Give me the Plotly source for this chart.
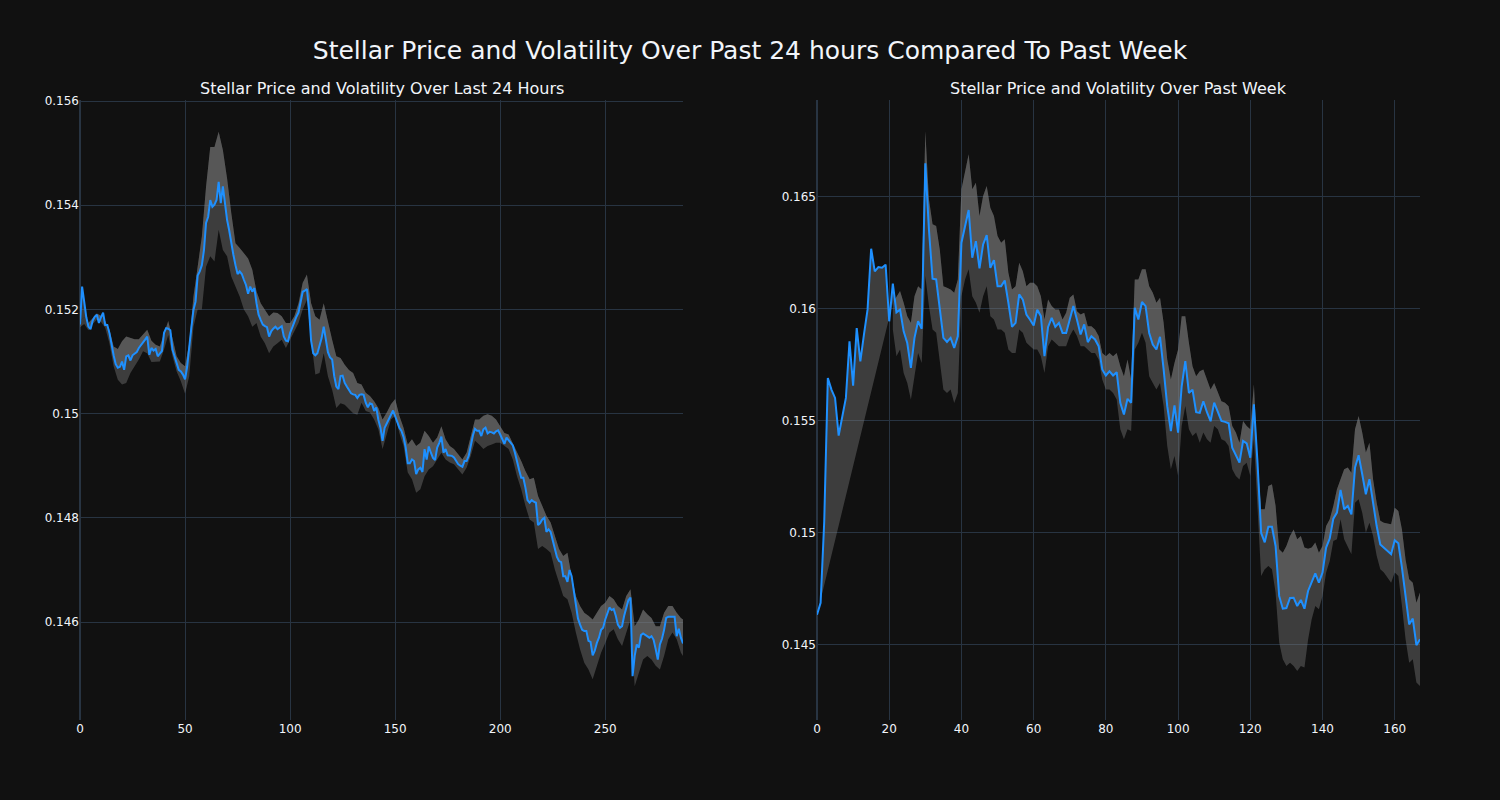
import plotly.graph_objects as go
from plotly.subplots import make_subplots

# ---------------- Past 24 hours (5-minute steps) ----------------
price_24h = [
    0.15171, 0.15244, 0.15215, 0.15185, 0.15167, 0.15162, 0.15178, 0.15186, 0.1519, 0.15174,
    0.15185, 0.15194, 0.1517, 0.1517, 0.15155, 0.1513, 0.15112, 0.15095, 0.15088, 0.1509,
    0.151, 0.15084, 0.1511, 0.15112, 0.15102, 0.15112, 0.15115, 0.15118, 0.15126, 0.15131,
    0.15135, 0.15142, 0.15148, 0.15113, 0.15126, 0.15121, 0.15124, 0.1511, 0.15115, 0.1512,
    0.15155, 0.15164, 0.15163, 0.1516, 0.15123, 0.15108, 0.15097, 0.15084, 0.15081, 0.15075,
    0.15066, 0.1509, 0.15135, 0.15165, 0.15199, 0.15215, 0.15265, 0.15273, 0.15285, 0.15314,
    0.15366, 0.15378, 0.1541, 0.15397, 0.15401, 0.1541, 0.15445, 0.15404, 0.15436, 0.15404,
    0.15372, 0.15352, 0.15325, 0.15305, 0.15285, 0.15268, 0.15273, 0.15268, 0.15257, 0.15247,
    0.1523, 0.15244, 0.15234, 0.15241, 0.15212, 0.1519, 0.1518, 0.15171, 0.15168, 0.15166,
    0.15148, 0.15158, 0.15163, 0.15167, 0.15162, 0.15166, 0.15168, 0.15148, 0.1514, 0.15139,
    0.15155, 0.15165, 0.15177, 0.15186, 0.15194, 0.15212, 0.15234, 0.15236, 0.15239, 0.152,
    0.1514, 0.15116, 0.15112, 0.15116, 0.1513, 0.15145, 0.15167, 0.15138, 0.15118, 0.15108,
    0.15104, 0.15072, 0.15052, 0.15047, 0.15072, 0.15073, 0.15059, 0.15052, 0.15045, 0.15039,
    0.15037, 0.15036, 0.1503, 0.15036, 0.15037, 0.15036, 0.15021, 0.15012, 0.1502, 0.15018,
    0.15005, 0.15012, 0.14988, 0.14973, 0.14948, 0.14973, 0.14981, 0.1499, 0.14998, 0.15006,
    0.14995, 0.14982, 0.14973, 0.14967, 0.14955, 0.14935, 0.14905, 0.14905, 0.14912, 0.14909,
    0.14884, 0.14893, 0.14896, 0.14888, 0.14932, 0.14912, 0.14937, 0.14925, 0.14915, 0.14911,
    0.14935, 0.14944, 0.14956, 0.14925, 0.14932, 0.1492, 0.1492, 0.14919, 0.14916, 0.1491,
    0.14903, 0.149, 0.14898, 0.14909, 0.14909, 0.14919, 0.1494, 0.14958, 0.14971, 0.14967,
    0.14967, 0.14957, 0.1497, 0.14973, 0.14962, 0.14965, 0.14964, 0.14962, 0.14966, 0.14968,
    0.1496, 0.14951, 0.14942, 0.14954, 0.14949, 0.14943, 0.14939, 0.14925, 0.14905, 0.14892,
    0.14877, 0.14877, 0.14858, 0.14834, 0.14829, 0.14834, 0.14831, 0.14829, 0.14786, 0.1479,
    0.14797, 0.148, 0.14773, 0.14778, 0.14773, 0.14755, 0.14742, 0.14725, 0.14717, 0.14715,
    0.14688, 0.14688, 0.14677, 0.147, 0.14688, 0.14659, 0.14632, 0.14607, 0.14595, 0.14585,
    0.14583, 0.14583, 0.14564, 0.14562, 0.14536, 0.14545, 0.1456, 0.1457, 0.14585, 0.14589,
    0.14605, 0.14615, 0.14628, 0.14623, 0.14625, 0.14612, 0.14595, 0.14589, 0.14592, 0.14612,
    0.14628, 0.14642, 0.14647, 0.14496, 0.14535, 0.14557, 0.14551, 0.14575, 0.14578, 0.14575,
    0.14573, 0.1457, 0.14573, 0.14566, 0.14548, 0.14528, 0.14557, 0.14568, 0.14585, 0.14608,
    0.1461, 0.1461, 0.1461, 0.1461, 0.14573, 0.14587, 0.1457, 0.14559,
]
x_24h = list(range(len(price_24h)))

band_x_24h = list(range(0, 288, 2)) + [287]
upper_24h = [
    0.15178, 0.15185, 0.15174, 0.15183, 0.15192, 0.15188, 0.15178, 0.15161, 0.15129, 0.15124,
    0.15139, 0.15148, 0.15145, 0.15143, 0.15143, 0.15151, 0.15161, 0.1514, 0.15132, 0.15129,
    0.15155, 0.15178, 0.15145, 0.1511, 0.15097, 0.15091, 0.15135, 0.15225, 0.15282, 0.1534,
    0.15436, 0.15512, 0.15512, 0.15541, 0.15506, 0.15452, 0.15385, 0.15327, 0.15318, 0.15308,
    0.15298, 0.15276, 0.15235, 0.15212, 0.152, 0.15187, 0.15194, 0.15193, 0.15187, 0.15174,
    0.15174, 0.15187, 0.15212, 0.15251, 0.15267, 0.15212, 0.15187, 0.1518, 0.15212, 0.15174,
    0.15142, 0.1511, 0.15107, 0.15094, 0.15084, 0.15078, 0.15059, 0.15056, 0.1504, 0.15034,
    0.15024, 0.15011, 0.14989, 0.15002, 0.15018, 0.15028, 0.14996, 0.14973, 0.14941, 0.14951,
    0.14938, 0.14944, 0.14967, 0.14957, 0.14944, 0.14954, 0.14976, 0.14951, 0.14938, 0.14932,
    0.14922, 0.14912, 0.14925, 0.14957, 0.14989, 0.14989, 0.14996, 0.14999, 0.14996, 0.14989,
    0.14976, 0.14963, 0.1496, 0.14944, 0.14928, 0.14909, 0.1489, 0.14874, 0.14877, 0.14842,
    0.14823, 0.14804, 0.14791, 0.14765, 0.1474, 0.14727, 0.14733, 0.14688, 0.1465, 0.14631,
    0.14618, 0.14612, 0.14605, 0.14618, 0.14631, 0.14637, 0.1465, 0.14644, 0.14631, 0.14624,
    0.1465, 0.14663, 0.14592, 0.14605, 0.14624, 0.14615, 0.14608, 0.14592, 0.14592, 0.14618,
    0.14631, 0.14631, 0.14618, 0.14608, 0.14605,
]
lower_24h = [
    0.15166, 0.15172, 0.1516, 0.15172, 0.1518, 0.15176, 0.15165, 0.15135, 0.15091, 0.15065,
    0.15056, 0.15059, 0.15078, 0.15091, 0.15104, 0.1512, 0.15116, 0.15099, 0.15099, 0.151,
    0.15123, 0.15151, 0.1511, 0.15081, 0.15062, 0.15038, 0.15072, 0.15167, 0.152, 0.152,
    0.15282, 0.15302, 0.15292, 0.15353, 0.15314, 0.15302, 0.15263, 0.15244, 0.15225, 0.152,
    0.15187, 0.15167, 0.15174, 0.15148, 0.15135, 0.15116, 0.15129, 0.15135, 0.15142, 0.15126,
    0.15142, 0.15161, 0.15174, 0.152, 0.15218, 0.15142, 0.15075, 0.15078, 0.15116, 0.15072,
    0.15046, 0.15011, 0.1502, 0.15017, 0.15008, 0.15001, 0.14998, 0.15021, 0.15005, 0.15002,
    0.14989, 0.1497, 0.14932, 0.14963, 0.14989, 0.14996, 0.14963, 0.14938, 0.14887, 0.14874,
    0.14848, 0.14855, 0.1488, 0.14893, 0.14899, 0.14912, 0.14925, 0.14912, 0.14906, 0.14903,
    0.14893, 0.14883, 0.14896, 0.14919, 0.14948, 0.14941, 0.14932, 0.14938, 0.14941, 0.14944,
    0.14944, 0.14938, 0.14932, 0.14912, 0.1488, 0.14855, 0.14823, 0.14797, 0.14791, 0.1474,
    0.14746, 0.1474, 0.14733, 0.14701, 0.14676, 0.1465, 0.14644, 0.14618, 0.1458, 0.14548,
    0.14522, 0.14509, 0.1449, 0.14516, 0.14541, 0.1456, 0.1458, 0.14586, 0.14567, 0.14554,
    0.1458, 0.14605, 0.14477, 0.14503, 0.14528, 0.14535, 0.14528, 0.14516, 0.14509, 0.14535,
    0.14567, 0.1458, 0.14567, 0.14541, 0.14535,
]

# ---------------- Past week (hourly steps) ----------------
price_week = [
    0.14635, 0.14688, 0.1505, 0.15692, 0.1564, 0.15603, 0.15435, 0.15521, 0.15603, 0.15856,
    0.15658, 0.15915, 0.15766, 0.15885, 0.15997, 0.16269, 0.16168, 0.16187, 0.16184, 0.16198,
    0.15945, 0.16113, 0.15985, 0.15997, 0.159, 0.15848, 0.15737, 0.15871, 0.15945, 0.15912,
    0.1665, 0.16355, 0.16135, 0.16132, 0.16013, 0.15871, 0.15853, 0.15871, 0.15826, 0.15878,
    0.16296, 0.1637, 0.16442, 0.16229, 0.16303, 0.16181, 0.16288, 0.1633, 0.16184, 0.16218,
    0.16102, 0.16102, 0.16127, 0.16027, 0.1592, 0.15938, 0.16065, 0.16042, 0.15975, 0.15952,
    0.15926, 0.15997, 0.15968, 0.15789, 0.1592, 0.1596, 0.1592, 0.15938, 0.15893, 0.15893,
    0.15952, 0.16013, 0.15952, 0.15886, 0.15931, 0.15852, 0.15878, 0.15864, 0.15834, 0.1573,
    0.15703, 0.15722, 0.15703, 0.15718, 0.15581, 0.15529, 0.15599, 0.15581, 0.16005, 0.15953,
    0.16031, 0.16013, 0.15893, 0.15841, 0.15819, 0.15876, 0.1573, 0.15566, 0.15455, 0.1557,
    0.15448, 0.15655, 0.15767, 0.15625, 0.1564, 0.15539, 0.15536, 0.15588, 0.15539, 0.15499,
    0.15582, 0.15545, 0.155, 0.15496, 0.1549, 0.15381, 0.15347, 0.15314, 0.15411, 0.154,
    0.15336, 0.15574, 0.15314, 0.15, 0.14958, 0.15028, 0.15028, 0.14942, 0.14719, 0.14662,
    0.14665, 0.1471, 0.14711, 0.14674, 0.14701, 0.14662, 0.14741, 0.14781, 0.1482, 0.14778,
    0.14823, 0.14935, 0.14975, 0.15064, 0.15091, 0.15192, 0.15106, 0.15121, 0.15083, 0.15292,
    0.15347, 0.15262, 0.15173, 0.1524, 0.15128, 0.15031, 0.14949, 0.14934, 0.1492, 0.14905,
    0.14967, 0.14954, 0.14845, 0.14726, 0.14592, 0.14618, 0.14499, 0.14525,
]
x_week = list(range(len(price_week)))

band_x_week = list(range(21, 168))
upper_week = [
    0.16028, 0.16057, 0.1608, 0.16028, 0.15968, 0.15938, 0.16057, 0.16102, 0.16087, 0.16795,
    0.1649, 0.16378, 0.1637, 0.16266, 0.16102, 0.16095, 0.16087, 0.16072, 0.16132, 0.16534,
    0.16609, 0.16691, 0.16534, 0.16564, 0.16415, 0.16504, 0.16549, 0.16452, 0.16415, 0.16326,
    0.16296, 0.16311, 0.16162, 0.16087, 0.16102, 0.16206, 0.16169, 0.16102, 0.16117, 0.16117,
    0.16102, 0.16057, 0.15953, 0.16042, 0.16013, 0.15998, 0.15998, 0.15953, 0.15983, 0.1605,
    0.16065, 0.1599, 0.15975, 0.15983, 0.15923, 0.15923, 0.15908, 0.15879, 0.15804, 0.15789,
    0.15804, 0.15789, 0.15804, 0.15744, 0.157, 0.15774, 0.15685, 0.16132, 0.16132, 0.16177,
    0.16177, 0.16102, 0.16072, 0.16028, 0.1605, 0.15938, 0.15774, 0.15685, 0.15759, 0.15819,
    0.15968, 0.15968, 0.15849, 0.15744, 0.157, 0.15722, 0.1573, 0.15685, 0.1564, 0.1567,
    0.15633, 0.15588, 0.15581, 0.15566, 0.15478, 0.15448, 0.15403, 0.155, 0.15478, 0.15463,
    0.15664, 0.15314, 0.15106, 0.15106, 0.1521, 0.15217, 0.15121, 0.14927, 0.14912, 0.14942,
    0.14987, 0.15016, 0.14972, 0.14987, 0.14935, 0.1493, 0.14935, 0.14957, 0.14912, 0.14942,
    0.15031, 0.15061, 0.15121, 0.15195, 0.1524, 0.15284, 0.15292, 0.15269, 0.15463, 0.15522,
    0.15448, 0.15359, 0.15403, 0.1524, 0.15135, 0.15054, 0.15046, 0.15043, 0.15039, 0.15113,
    0.15098, 0.15016, 0.14882, 0.14793, 0.14778, 0.14689, 0.14734,
]
lower_week = [
    0.15908, 0.15789, 0.15819, 0.15714, 0.1567, 0.15595, 0.157, 0.15804, 0.15759, 0.16147,
    0.16013, 0.15908, 0.15894, 0.15759, 0.1564, 0.15625, 0.1564, 0.1558, 0.15625, 0.16057,
    0.16132, 0.16177, 0.16057, 0.16028, 0.15983, 0.16057, 0.16102, 0.15968, 0.15953, 0.15908,
    0.15908, 0.15894, 0.15819, 0.15804, 0.15804, 0.15908, 0.15894, 0.15849, 0.15834, 0.15819,
    0.15819, 0.15789, 0.15714, 0.15834, 0.15864, 0.15849, 0.15834, 0.15834, 0.15834, 0.15879,
    0.15908, 0.15879, 0.15834, 0.15834, 0.15819, 0.15804, 0.15804, 0.15774, 0.15685, 0.1564,
    0.1564, 0.15625, 0.15596, 0.15463, 0.15418, 0.15463, 0.15455, 0.15819, 0.15849, 0.15894,
    0.15849, 0.157, 0.1567, 0.1564, 0.1567, 0.15566, 0.15388, 0.15284, 0.15344, 0.15254,
    0.15478, 0.15567, 0.15463, 0.15433, 0.15448, 0.15403, 0.15448, 0.15418, 0.15403, 0.15478,
    0.15463, 0.15418, 0.15411, 0.15388, 0.15284, 0.15254, 0.15239, 0.15299, 0.15314, 0.15254,
    0.15418, 0.15091, 0.14808, 0.14838, 0.14853, 0.14838, 0.14734, 0.14511, 0.14436, 0.14406,
    0.14421, 0.14406, 0.14384, 0.14406, 0.14399, 0.14523, 0.14615, 0.14674, 0.14659, 0.14719,
    0.14823, 0.14875, 0.14964, 0.14972, 0.15061, 0.14972, 0.14942, 0.14905, 0.15135, 0.1515,
    0.1509, 0.15001, 0.15046, 0.14987, 0.14898, 0.14838, 0.14823, 0.14801, 0.14778, 0.14823,
    0.14808, 0.14674, 0.14526, 0.14421, 0.14436, 0.14332, 0.14317,
]

TITLE = "Stellar Price and Volatility Over Past 24 hours Compared To Past Week"
SUB_TITLES = ("Stellar Price and Volatility Over Last 24 Hours",
              "Stellar Price and Volatility Over Past Week")

FILL = "rgba(128,128,128,0.4)"
LINE = "dodgerblue"
FONT = "DejaVu Sans"

fig = make_subplots(rows=1, cols=2, subplot_titles=SUB_TITLES)


def add_panel(x, price, bx, up, lo, col):
    fig.add_trace(go.Scatter(x=x, y=price, mode="lines", line=dict(width=0),
                             hoverinfo="skip", showlegend=False), row=1, col=col)
    fig.add_trace(go.Scatter(x=bx, y=up, mode="lines", line=dict(width=0),
                             fill="tonexty", fillcolor=FILL, showlegend=False), row=1, col=col)
    fig.add_trace(go.Scatter(x=bx, y=lo, mode="lines", line=dict(width=0),
                             fill="tonexty", fillcolor=FILL, showlegend=False), row=1, col=col)
    fig.add_trace(go.Scatter(x=x, y=price, mode="lines", line=dict(color=LINE, width=2),
                             showlegend=False), row=1, col=col)


add_panel(x_24h, price_24h, band_x_24h, upper_24h, lower_24h, 1)
add_panel(x_week, price_week, band_x_week, upper_week, lower_week, 2)

fig.update_layout(
    template="plotly_dark",
    width=1500, height=800,
    font=dict(family=FONT),
    title=dict(text=TITLE, x=0.5, xanchor="center", y=0.9375, yanchor="middle",
               font=dict(size=25, family=FONT)),
    showlegend=False,
)
fig.update_annotations(font=dict(family=FONT, size=16))
fig.update_xaxes(range=[0, 287], row=1, col=1)
fig.update_xaxes(range=[0, 167], row=1, col=2)
fig.update_yaxes(range=[0.14412, 0.15602], row=1, col=1)
fig.update_yaxes(range=[0.14165, 0.16933], row=1, col=2)

fig.write_html(
    "out.html",
    config={"displayModeBar": False},
    post_script="document.body.style.margin='0';document.body.style.background='#111111';",
)
